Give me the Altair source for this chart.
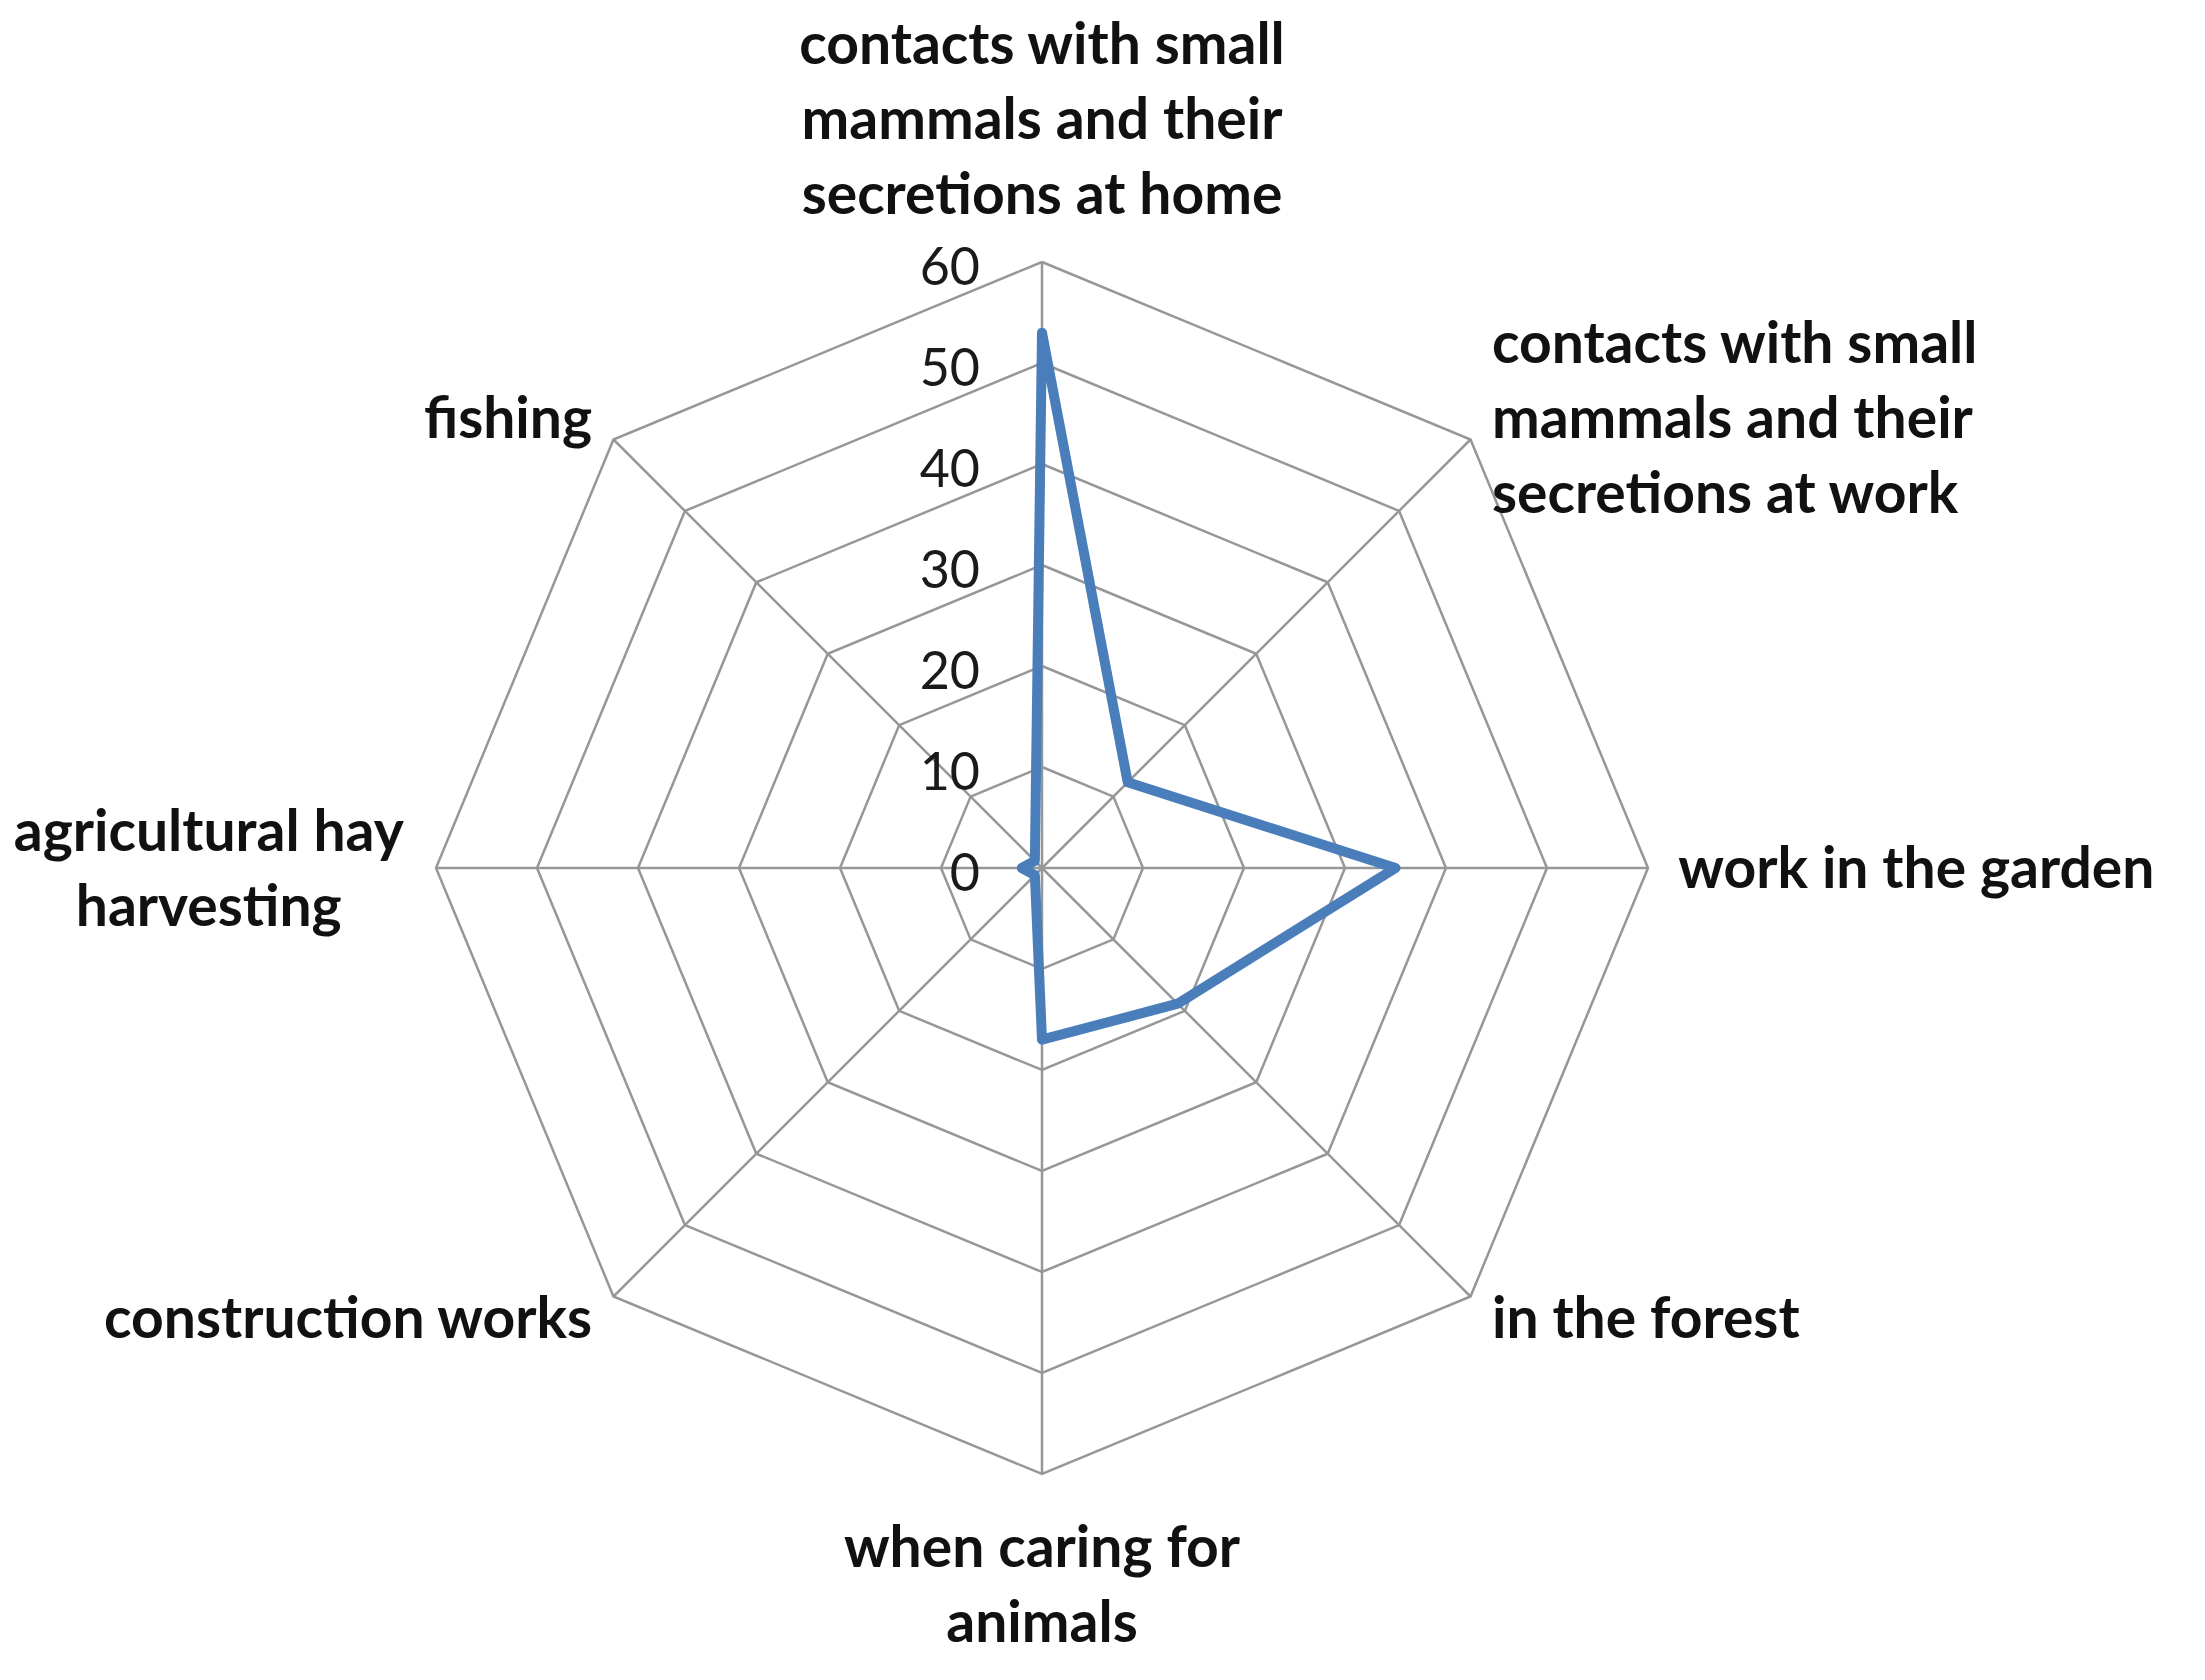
import math
import altair as alt
import pandas as pd

# ---- data ----
categories = [
    "contacts with small mammals and their secretions at home",
    "contacts with small mammals and their secretions at work",
    "work in the garden",
    "in the forest",
    "when caring for animals",
    "construction works",
    "agricultural hay harvesting",
    "fishing",
]
label_lines = [
    ["contacts with small", "mammals and their", "secretions at home"],
    ["contacts with small", "mammals and their", "secretions at work"],
    ["work in the garden"],
    ["in the forest"],
    ["when caring for", "animals"],
    ["construction works"],
    ["agricultural hay", "harvesting"],
    ["fishing"],
]
values = [53, 12, 35, 19, 17, 1, 2, 1]
tick_values = [0, 10, 20, 30, 40, 50, 60]
r_max = 60

# ---- layout (styling, not data) ----
W, H = 2180, 1650
K = 10.1               # pixels per unit
CX, CY = 1034, 860     # centre in chart pixels
xdom = [-CX / K, (W - CX) / K]
ydom = [-(H - CY) / K, CY / K]
FONT = "Lato"
GRID = "#979797"
BLUE = "#4a7ebb"
LH = 75                # label line height, px
LHU = LH / K           # in units

n = len(categories)
ang = [2 * math.pi * i / n for i in range(n)]

def xy(r, a):
    return r * math.sin(a), r * math.cos(a)

# series polygon (closed)
rows = []
for k in range(n + 1):
    i = k % n
    x, y = xy(values[i], ang[i])
    rows.append({"cat": categories[i], "value": values[i], "x": x, "y": y, "o": k})
series = pd.DataFrame(rows)

# grid rings
grows = []
for t in tick_values[1:]:
    for k in range(n + 1):
        x, y = xy(t, ang[k % n])
        grows.append({"ring": t, "x": x, "y": y, "o": k})
rings = pd.DataFrame(grows)

# spokes
spokes = pd.DataFrame([
    {"x": 0.0, "y": 0.0, "x2": xy(r_max, a)[0], "y2": xy(r_max, a)[1]} for a in ang
])

ticks = pd.DataFrame({"v": tick_values, "x": [0.0] * len(tick_values), "label": [str(t) for t in tick_values]})

# category labels: anchor the first line's middle
LR = 63.0
labels = []
for i in range(n):
    sx, cy = math.sin(ang[i]), math.cos(ang[i])
    nl = len(label_lines[i])
    if abs(sx) < 1e-6 and cy > 0:
        align, x, y = "center", 0.0, 66.7 + (nl - 1) * LHU
    elif abs(sx) < 1e-6:
        align, x, y = "center", 0.0, -67.2
    else:
        ax, ay = xy(LR, ang[i])
        align = "left" if sx > 0 else "right"
        x, y = ax, ay + (nl - 1) / 2 * LHU
        if i == 6:  # left label block is centred in its own box
            align, x = "center", -82.5
    labels.append(pd.DataFrame({"text": ["\n".join(label_lines[i])], "x": [x], "y": [y], "align": [align]}))

xs = alt.Scale(domain=xdom, nice=False, zero=False)
ys = alt.Scale(domain=ydom, nice=False, zero=False)
X = lambda f="x": alt.X(f, type="quantitative", scale=xs, axis=None)
Y = lambda f="y": alt.Y(f, type="quantitative", scale=ys, axis=None)

ring_layer = alt.Chart(rings).mark_line(color=GRID, strokeWidth=2.5).encode(
    x=X(), y=Y(), detail="ring:N", order="o:Q"
)
spoke_layer = alt.Chart(spokes).mark_rule(color=GRID, strokeWidth=2.5).encode(
    x=X(), y=Y(), x2="x2:Q", y2="y2:Q"
)
series_layer = alt.Chart(series).mark_line(
    color=BLUE, strokeWidth=10, strokeJoin="round", strokeCap="round"
).encode(x=X(), y=Y(), order="o:Q")

tick_layer = alt.Chart(ticks).mark_text(
    align="right", baseline="middle", dx=-62, dy=7, font=FONT, fontSize=52, color="#1a1a1a"
).encode(x=X(), y=Y("v"), text="label:N")

label_layers = []
for df in labels:
    label_layers.append(
        alt.Chart(df).mark_text(
            align=df["align"].iloc[0], baseline="middle", dy=3, lineBreak="\n", lineHeight=LH,
            font=FONT, fontSize=57, fontWeight="bold", color="#111111"
        ).encode(x=X(), y=Y(), text="text:N")
    )

chart = alt.layer(ring_layer, spoke_layer, series_layer, tick_layer, *label_layers).properties(
    width=W, height=H, autosize=alt.AutoSizeParams(type="none"), padding=0
).configure_view(stroke=None)

chart.save("out.html", embed_options={"renderer": "svg", "actions": False})
